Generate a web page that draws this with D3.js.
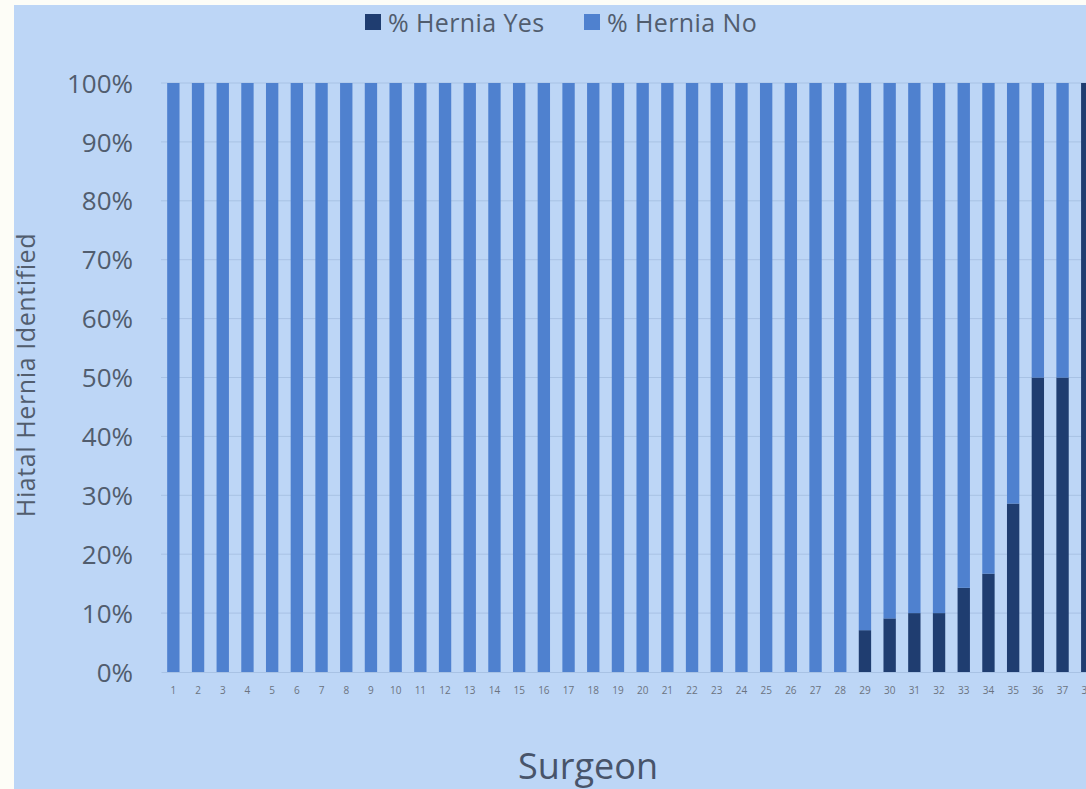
<!DOCTYPE html>
<html><head><meta charset="utf-8">
<script src="https://cdn.jsdelivr.net/npm/d3@7"></script>
<style>html,body{margin:0;padding:0;background:#fdfdf7;overflow:hidden}</style>
</head><body>
<svg id="c" width="1086" height="789"></svg>
<script>
const surgeons = d3.range(1, 39).map(String);
const herniaYes = [0,0,0,0,0,0,0,0,0,0,0,0,0,0,0,0,0,0,0,0,0,0,0,0,0,0,0,0,
                   7.1,9.1,10,10,14.3,16.7,28.6,50,50,100];
const herniaNo = herniaYes.map(v => 100 - v);
const yTicks = [0,10,20,30,40,50,60,70,80,90,100];
const seriesNames = ["% Hernia Yes", "% Hernia No"];
const colors = ["#1f3d70", "#4f81cf"];

const svg = d3.select("#c");
svg.append("rect").attr("x",14).attr("y",5).attr("width",1072).attr("height",784).attr("fill","#bdd6f6");

const x = d3.scaleBand().domain(surgeons).range([161, 161 + 38*24.7]).paddingInner(0.5).paddingOuter(0.25);
const y = d3.scaleLinear().domain([0,100]).range([672, 83]);

// gridlines
svg.append("g").selectAll("line").data(yTicks.filter(t=>t>0)).join("line")
  .attr("x1",161).attr("x2",1086).attr("y1",d=>y(d)).attr("y2",d=>y(d))
  .attr("stroke","#a8c2e4").attr("stroke-width",1);

const data = surgeons.map((s,i)=>({s, yes:herniaYes[i], no:herniaNo[i]}));
const stack = d3.stack().keys(["yes","no"])(data);
svg.append("g").selectAll("g").data(stack).join("g").attr("fill",(d,i)=>colors[i])
  .selectAll("rect").data(d=>d).join("rect")
  .attr("x",d=>x(d.data.s)).attr("width",x.bandwidth())
  .attr("y",d=>y(d[1])).attr("height",d=>y(d[0])-y(d[1]));

// y axis
const ya = svg.append("g").attr("transform","translate(133,0)")
  .call(d3.axisLeft(y).tickValues(yTicks).tickFormat(d=>d+"%").tickSize(0).tickPadding(0));
ya.select(".domain").remove();
ya.selectAll("text").attr("font-family","Open Sans").attr("font-size",26).attr("fill","#515d6e").attr("dy","0.35em");

// x axis
const xa = svg.append("g").attr("transform","translate(0,672)")
  .call(d3.axisBottom(x).tickSize(0).tickPadding(15));
xa.select(".domain").attr("stroke","#a8c2e4");
xa.selectAll("text").attr("font-family","Open Sans").attr("font-size",10).attr("fill","#6b7380");

// axis titles
svg.append("text").attr("transform","translate(35,375) rotate(-90)").attr("text-anchor","middle")
  .attr("font-family","Open Sans").attr("font-size",25).attr("letter-spacing",0.6)
  .attr("fill","#515d6e").text("Hiatal Hernia Identified");
svg.append("text").attr("x",588).attr("y",779).attr("text-anchor","middle")
  .attr("font-family","Open Sans").attr("font-size",36).attr("fill","#48546a").text("Surgeon");

// legend
const lg = svg.append("g");
const lx = [365, 584];
seriesNames.forEach((n,i)=>{
  lg.append("rect").attr("x",lx[i]).attr("y",14).attr("width",16).attr("height",16).attr("fill",colors[i]);
  lg.append("text").attr("x",lx[i]+23).attr("y",23).attr("dy","0.35em").attr("font-family","Open Sans")
    .attr("font-size",25).attr("letter-spacing",0.4).attr("fill","#515d6e").text(n);
});
</script>
</body></html>
